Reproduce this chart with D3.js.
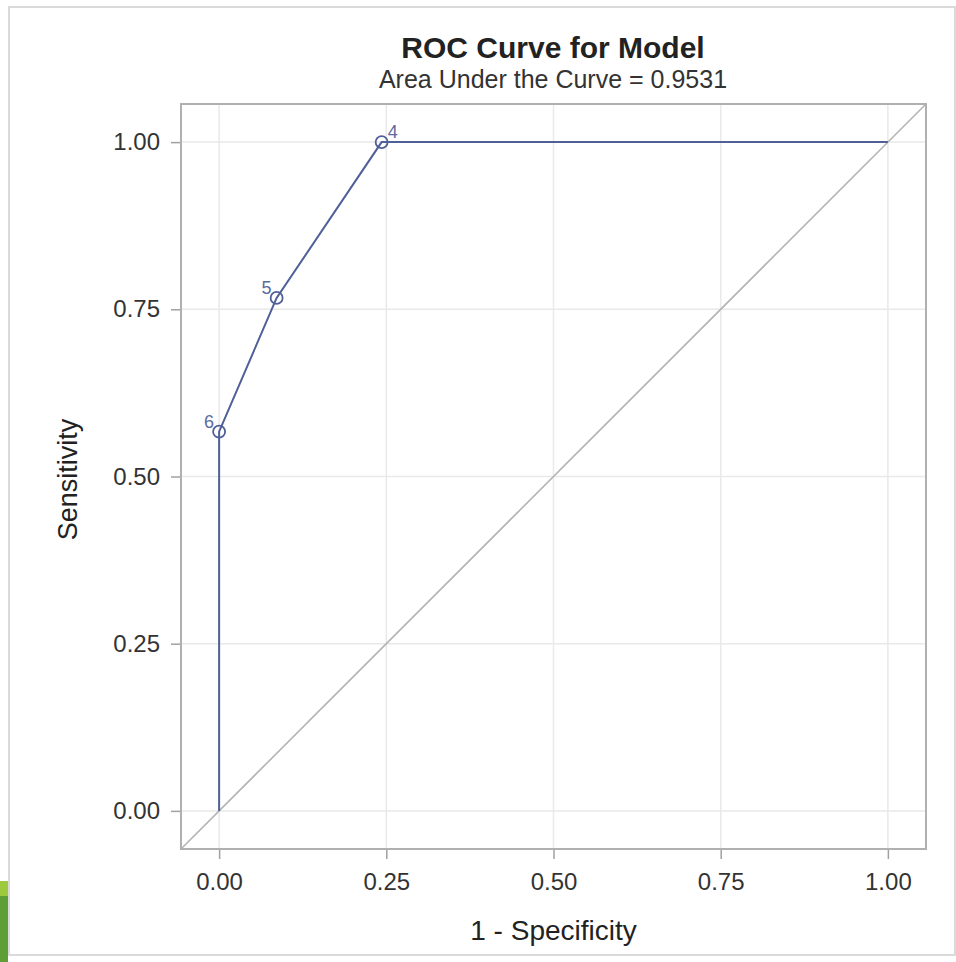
<!DOCTYPE html>
<html>
<head>
<meta charset="utf-8">
<script src="https://cdn.jsdelivr.net/npm/d3@7"></script>
<style>
    body { margin: 0; background: #ffffff; }
    svg text { font-family: "Liberation Sans", Arial, sans-serif; }
</style>
</head>
<body>
<div id="canvas"></div>
<script>
"use strict"

/*** DATA ***/
let rocFpr    = [0, 0, 0.086, 0.243, 1]      // 1 - specificity
let rocSens   = [0, 0.567, 0.767, 1, 1]      // sensitivity
let rocLabels = ["", "6", "5", "4", ""]      // cutpoint ids, blank = no marker
let tickValues = [0, 0.25, 0.5, 0.75, 1]
let aucValue = "0.9531"

/*** CANVAS SETUP ***/
let svgWidth = 956
let svgHeight = 962

let plot = { left: 181, top: 104, right: 926, bottom: 849 }

let svg = d3.select("#canvas")
    .append("svg")
    .attr("width", svgWidth)
    .attr("height", svgHeight)

/* picture frame + green strip at bottom left */
svg.append("rect")
    .attr("x", 9).attr("y", 7)
    .attr("width", 946).attr("height", 948)
    .attr("fill", "none")
    .attr("stroke", "#dadada")
    .attr("stroke-width", 2)

svg.append("rect")
    .attr("x", 0).attr("y", 881)
    .attr("width", 8).attr("height", 15)
    .attr("fill", "#9dc93c")

svg.append("rect")
    .attr("x", 0).attr("y", 896)
    .attr("width", 8).attr("height", 66)
    .attr("fill", "#5d9e36")

/*** SCALES ***/
let xScale = d3.scaleLinear()
    .domain([-0.057, 1.057])
    .range([plot.left, plot.right])

let yScale = d3.scaleLinear()
    .domain([-0.057, 1.057])
    .range([plot.bottom, plot.top])

/*** GRID ***/
let grid = svg.append("g")

grid.selectAll(".vgrid")
    .data(tickValues)
    .join("line")
    .attr("x1", d => xScale(d)).attr("x2", d => xScale(d))
    .attr("y1", plot.top).attr("y2", plot.bottom)
    .attr("stroke", "#e9e9e9")
    .attr("stroke-width", 1.5)

grid.selectAll(".hgrid")
    .data(tickValues)
    .join("line")
    .attr("y1", d => yScale(d)).attr("y2", d => yScale(d))
    .attr("x1", plot.left).attr("x2", plot.right)
    .attr("stroke", "#e9e9e9")
    .attr("stroke-width", 1.5)

/* chance diagonal across whole plot */
svg.append("line")
    .attr("x1", xScale(-0.057)).attr("y1", yScale(-0.057))
    .attr("x2", xScale(1.057)).attr("y2", yScale(1.057))
    .attr("stroke", "#b4b4b4")
    .attr("stroke-width", 1.6)

/*** AXES ***/
let xAxis = d3.axisBottom(xScale)
    .tickValues(tickValues)
    .tickFormat(d3.format(".2f"))
    .tickSize(10)
    .tickPadding(14)
    .tickSizeOuter(0)

let yAxis = d3.axisLeft(yScale)
    .tickValues(tickValues)
    .tickFormat(d3.format(".2f"))
    .tickSize(10)
    .tickPadding(11)
    .tickSizeOuter(0)

let gx = svg.append("g")
    .attr("transform", `translate(0, ${plot.bottom})`)
    .call(xAxis)

let gy = svg.append("g")
    .attr("transform", `translate(${plot.left}, 0)`)
    .call(yAxis)

for (let g of [gx, gy]) {
    g.select(".domain").remove()
    g.selectAll("line").attr("stroke", "#a0a0a0").attr("stroke-width", 1.5)
    g.selectAll("text")
        .attr("fill", "#333333")
        .attr("font-size", "24px")
}

/* plot frame */
svg.append("rect")
    .attr("x", plot.left).attr("y", plot.top)
    .attr("width", plot.right - plot.left)
    .attr("height", plot.bottom - plot.top)
    .attr("fill", "none")
    .attr("stroke", "#b0b0b0")
    .attr("stroke-width", 2)

/*** ROC CURVE ***/
let rocData = rocFpr.map((f, i) => ({ fpr: f, sens: rocSens[i], id: rocLabels[i] }))

let line = d3.line()
    .x(d => xScale(d.fpr))
    .y(d => yScale(d.sens))

svg.append("path")
    .datum(rocData)
    .attr("d", line)
    .attr("fill", "none")
    .attr("stroke", "#4f5f98")
    .attr("stroke-width", 2)

let marked = rocData.filter(d => d.id !== "")

svg.selectAll(".cut")
    .data(marked)
    .join("circle")
    .attr("cx", d => xScale(d.fpr))
    .attr("cy", d => yScale(d.sens))
    .attr("r", 6)
    .attr("fill", "none")
    .attr("stroke", "#4f5f98")
    .attr("stroke-width", 1.8)

svg.selectAll(".cutlab")
    .data(marked)
    .join("text")
    .attr("x", d => xScale(d.fpr) + (d.id === "4" ? 6 : -5))
    .attr("y", d => yScale(d.sens) - 4)
    .attr("text-anchor", d => d.id === "4" ? "start" : "end")
    .attr("fill", "#5c6aa0")
    .attr("font-size", "18px")
    .text(d => d.id)

/*** TITLES ***/
svg.append("text")
    .attr("x", 553).attr("y", 58)
    .attr("text-anchor", "middle")
    .attr("font-weight", "bold")
    .attr("font-size", "30px")
    .attr("fill", "#222222")
    .text("ROC Curve for Model")

svg.append("text")
    .attr("x", 553).attr("y", 88)
    .attr("text-anchor", "middle")
    .attr("font-size", "25px")
    .attr("fill", "#333333")
    .text("Area Under the Curve = " + aucValue)

svg.append("text")
    .attr("x", (plot.left + plot.right) / 2)
    .attr("y", 940)
    .attr("text-anchor", "middle")
    .attr("font-size", "28px")
    .attr("fill", "#222222")
    .text("1 - Specificity")

svg.append("text")
    .attr("transform", `translate(77, ${(plot.top + plot.bottom) / 2 + 3}) rotate(-90)`)
    .attr("text-anchor", "middle")
    .attr("font-size", "27px")
    .attr("fill", "#222222")
    .text("Sensitivity")
</script>
</body>
</html>
